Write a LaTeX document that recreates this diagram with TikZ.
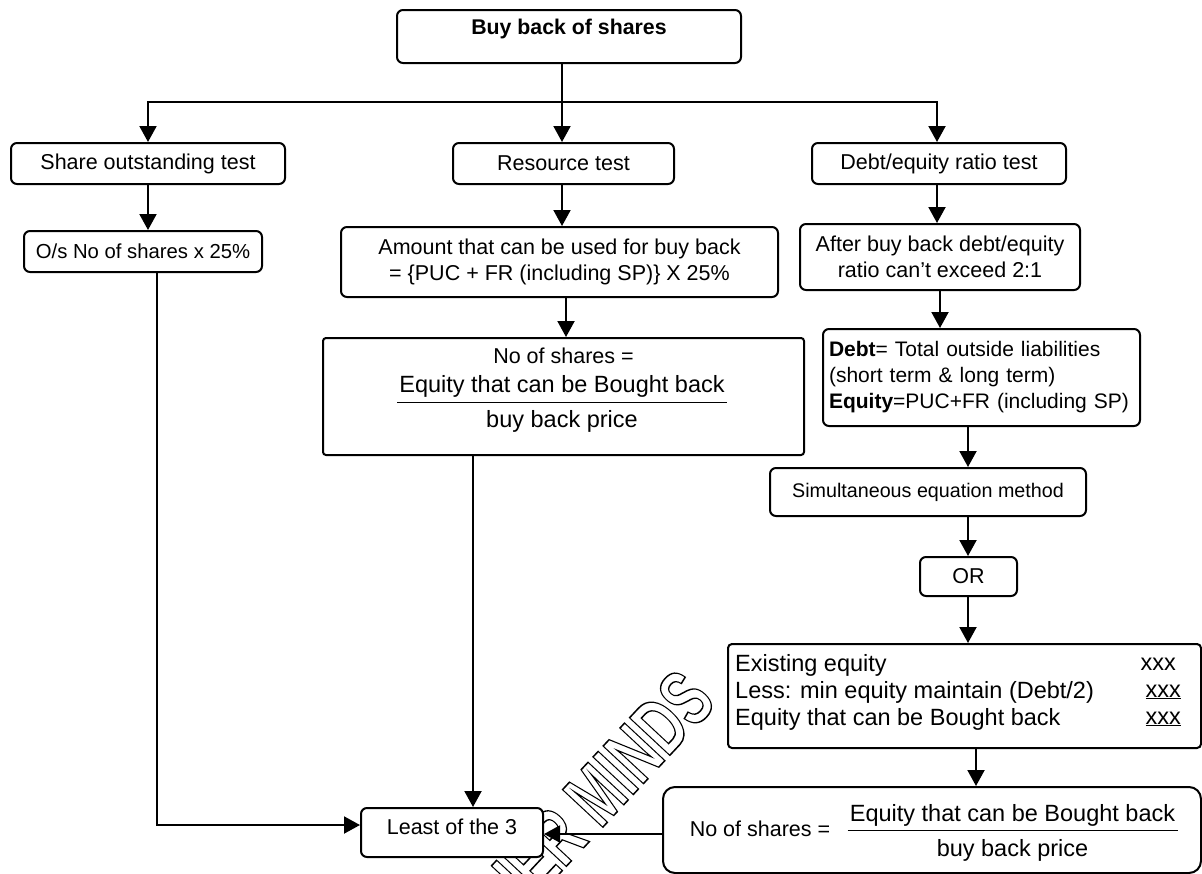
\documentclass[tikz,border=0pt]{standalone}
\usepackage{fontspec}
\setmainfont{Liberation Sans}
\usetikzlibrary{arrows.meta,calc}
\tikzset{
 rbox/.style={draw=black,line width=2pt,rounded corners=6pt,align=center,inner sep=0pt,font=\fontsize{21.5}{26}\selectfont,anchor=center},
 txt/.style={font=\fontsize{21.5}{26}\selectfont,inner sep=0pt},
 bigtxt/.style={font=\fontsize{23.5}{27}\selectfont,inner sep=0pt},
 arr/.style={draw=black,line width=2pt,-{Triangle[length=16pt,width=17pt]}},
 ln/.style={draw=black,line width=2pt},
 wm/.style={rotate=47,font=\fontsize{80}{80}\selectfont\bfseries,inner sep=0pt,anchor=south east}
}
\newcommand{\frc}[3]{\begin{tabular}{@{}c@{}}#1\\[-17pt]\rule{#3}{1.4pt}\\[-2pt]#2\end{tabular}}
\begin{document}
\begin{tikzpicture}[x=1pt,y=-1pt]
\useasboundingbox (0,0) rectangle (1202,873);
\begin{scope}
\clip (0,0) rectangle (1202,873);
\node[wm] (mark) at (719,704) {\scalebox{.67}[1]{\special{pdf:code q 1 Tr 1.5 w}OTHER MINDS\special{pdf:code Q}}};
\end{scope}
\node[rbox,minimum width=344pt,minimum height=53pt] (title) at (569,36.5) {};
\node[txt,font=\bfseries\fontsize{21.3}{24}\selectfont] (titletxt) at (569,29) {Buy back of shares};
\node[rbox,minimum width=274pt,minimum height=41pt] (share) at (148,163.5) {\raisebox{1pt}{Share outstanding test}};
\node[rbox,minimum width=221pt,minimum height=41pt] (res) at (563.5,163.5) {\raisebox{1pt}{Resource test}};
\node[rbox,minimum width=254pt,minimum height=41pt] (debt) at (939,163.5) {\raisebox{1pt}{Debt/equity ratio test}};
\node[rbox,minimum width=238pt,minimum height=41pt,font=\fontsize{20.3}{26}\selectfont] (os) at (143,251.5) {O/s No of shares x 25\%};
\node[rbox,minimum width=437pt,minimum height=70pt] (amt) at (559.5,262) {Amount that can be used for buy back\\= \{PUC + FR (including SP)\} X 25\%};
\node[rbox,minimum width=481pt,minimum height=117pt,rounded corners=3pt] (no) at (563.5,396.5) {};
\node[txt] (notxt) at (563.5,356) {No of shares =};
\node[bigtxt] (nofr) at (562,405) {\frc{Equity that can be Bought back}{buy back price}{330pt}};
\node[rbox,minimum width=280pt,minimum height=66pt] (after) at (940,257) {After buy back debt/equity\\ratio can’t exceed 2:1};
\node[rbox,minimum width=317pt,minimum height=97pt,text width=305pt,align=left,font=\fontsize{21}{26}\selectfont] (dbox) at (981.5,377.5) {\textbf{Debt}= Total outside liabilities\\(short term \& long term)\\\textbf{Equity}=PUC+FR (including SP)};
\node[rbox,minimum width=316pt,minimum height=48pt,font=\fontsize{19.7}{26}\selectfont] (sim) at (928,492) {Simultaneous equation method};
\node[rbox,minimum width=97pt,minimum height=39pt] (or) at (968.5,576.5) {OR};
\node[rbox,minimum width=473pt,minimum height=104pt,rounded corners=4pt] (ex) at (964.5,696) {};
\node[bigtxt,align=left,anchor=west] (extxt) at (735,692) {Existing equity\\Less: min equity maintain (Debt/2)\\Equity that can be Bought back};
\node[bigtxt,align=right,anchor=east] (exval) at (1181,692) {xxx\hspace*{5pt}\\\underline{xxx}\\\underline{xxx}};
\node[rbox,minimum width=538pt,minimum height=86pt,rounded corners=12pt] (bot) at (932,830) {};
\node[txt] (bottxt) at (760,829) {No of shares =};
\node[bigtxt] (botfr) at (1012.5,833.5) {\frc{Equity that can be Bought back}{buy back price}{330pt}};
\node[rbox,minimum width=182pt,minimum height=49pt,fill=white] (least) at (452,832.5) {\raisebox{12pt}{Least of the 3}};
% connectors
\coordinate (bus) at (562,102);
\coordinate (busr) at (937,102);
\draw[ln] ([xshift=-7pt]title.south) -- (bus);
\draw[arr] (bus) -- (bus -| share) -- (share.north);
\draw[arr] ([xshift=-7pt]title.south) -- ([xshift=-1.5pt]res.north);
\draw[arr] (bus) -- (busr) -- ([xshift=-2pt]debt.north);
\draw[arr] (share.south) -- ([xshift=5pt]os.north);
\draw[arr] ([xshift=14pt]os.south) |- ([yshift=7.5pt]least.west);
\draw[arr] ([xshift=-90.5pt]no.south) -- ([xshift=21pt]least.north);
\draw[arr] ([xshift=-1.5pt]res.south) -- ([xshift=2.5pt]amt.north);
\draw[arr] ([xshift=6.5pt]amt.south) -- ([xshift=2.5pt]no.north);
\draw[arr] ([xshift=-2pt]debt.south) -- ([xshift=-3pt]after.north);
\draw[arr] (after.south) -- ([xshift=-41.5pt]dbox.north);
\draw[arr] ([xshift=-13.5pt]dbox.south) -- ([xshift=40pt]sim.north);
\draw[arr] ([xshift=40pt]sim.south) -- ([xshift=-.5pt]or.north);
\draw[arr] ([xshift=-.5pt]or.south) -- ([xshift=3.5pt]ex.north);
\draw[arr] ([xshift=11.5pt]ex.south) -- ([xshift=44pt]bot.north);
\draw[arr] ([yshift=-4pt]bot.west) -- ([yshift=-1.5pt]least.east);
\end{tikzpicture}
\end{document}
